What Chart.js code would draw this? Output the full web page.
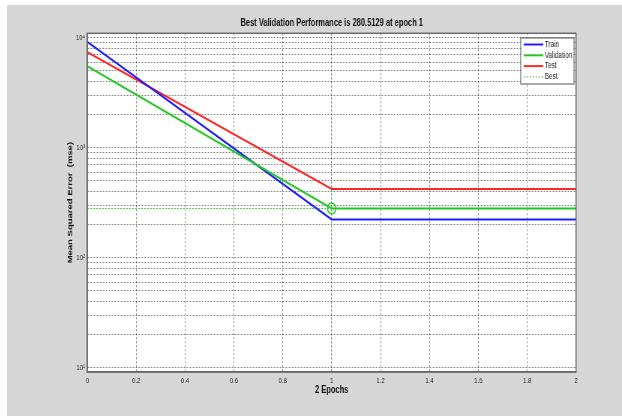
<!DOCTYPE html>
<html>
<head>
<meta charset="utf-8">
<script src="https://cdn.jsdelivr.net/npm/chart.js@4/dist/chart.umd.min.js"></script>
<style>
  html, body { margin: 0; padding: 0; background: #ffffff; width: 622px; height: 416px; overflow: hidden; }
  #wrap { position: absolute; left: 7px; top: 5px; width: 615px; height: 411px; background: #d6d6d6; overflow: hidden; }
  #c { transform: scaleX(0.75); transform-origin: 0 0; display: block; }
</style>
</head>
<body>
<div id="wrap"><canvas id="c" width="820" height="411"></canvas></div>
<script>
// ---- data ----
const epochs = [0, 1, 2];
const trainMSE = [9150, 223, 223];
const validationMSE = [5500, 280.5129, 280.5129];
const testMSE = [7400, 422, 422];
const bestEpoch = 1;
const bestPerf = 280.5129;
const seriesNames = ['Train', 'Validation', 'Test', 'Best'];
const xTickValues = [0, 0.2, 0.4, 0.6, 0.8, 1, 1.2, 1.4, 1.6, 1.8, 2];
const yTickValues = [10,20,30,40,50,60,70,80,90,100,200,300,400,500,600,700,800,900,1000,2000,3000,4000,5000,6000,7000,8000,9000,10000];
const yMajorLabels = {10: '10\u00B9', 100: '10\u00B2', 1000: '10\u00B3', 10000: '10\u2074'};
const yAxisMin = 9.14;
const yAxisMax = 10965;

const BLUE = '#1c1cff', GREEN = '#22c822', RED = '#ff2626';

function pts(ys) { return epochs.map((e, i) => ({x: e, y: ys[i]})); }

const framePlugin = {
  id: 'frame',
  beforeDraw(chart) {
    const {ctx, chartArea: a} = chart;
    ctx.save();
    ctx.fillStyle = '#ffffff';
    ctx.fillRect(a.left, a.top, a.right - a.left, a.bottom - a.top);
    ctx.restore();
  },
  afterDraw(chart) {
    const {ctx, chartArea: a} = chart;
    ctx.save();
    ctx.strokeStyle = '#6a6a6a';
    ctx.lineWidth = 1.5;
    ctx.strokeRect(a.left, a.top, a.right - a.left, a.bottom - a.top);
    // legend box (MATLAB style, inside the axes, top-right)
    const lx = 685, ly = 33, lw = 71, lh = 46;
    ctx.fillStyle = '#ffffff';
    ctx.fillRect(lx, ly, lw, lh);
    ctx.strokeStyle = '#555555';
    ctx.lineWidth = 1;
    ctx.strokeRect(lx, ly, lw, lh);
    const colors = [BLUE, GREEN, RED, GREEN];
    ctx.font = '8.5px "Liberation Sans", Arial, sans-serif';
    ctx.textBaseline = 'middle';
    ctx.textAlign = 'left';
    seriesNames.forEach((name, i) => {
      const y = ly + 6.5 + i * 10.8;
      ctx.beginPath();
      ctx.strokeStyle = colors[i];
      ctx.lineWidth = i === 3 ? 1 : 2;
      ctx.setLineDash(i === 3 ? [2, 2] : []);
      ctx.moveTo(lx + 4, y);
      ctx.lineTo(lx + 30, y);
      ctx.stroke();
      ctx.setLineDash([]);
      ctx.fillStyle = '#222222';
      ctx.fillText(name, lx + 32, y);
    });
    ctx.restore();
  }
};

new Chart(document.getElementById('c'), {
  type: 'line',
  data: {
    datasets: [
      { label: 'Best', data: [{x: epochs[0], y: bestPerf}, {x: epochs[epochs.length - 1], y: bestPerf}], borderColor: GREEN, borderWidth: 1, borderDash: [2, 2], pointRadius: 0, order: 5 },
      { label: 'Best epoch', data: [{x: bestEpoch, y: yAxisMin}, {x: bestEpoch, y: yAxisMax}], borderColor: 'rgba(34,200,34,0.55)', borderWidth: 1, borderDash: [2, 2], pointRadius: 0, order: 5 },
      { label: 'Train', data: pts(trainMSE), borderColor: BLUE, borderWidth: 2, pointRadius: 0, order: 3 },
      { label: 'Validation', data: pts(validationMSE), borderColor: GREEN, borderWidth: 2, pointRadius: 0, order: 2 },
      { label: 'Test', data: pts(testMSE), borderColor: RED, borderWidth: 2, pointRadius: 0, order: 4 },
      { label: 'Best point', data: [{x: bestEpoch, y: bestPerf}], borderColor: GREEN, backgroundColor: 'rgba(0,0,0,0)', pointRadius: 5.5, pointBorderWidth: 1.5, showLine: false, order: 1 }
    ]
  },
  options: {
    responsive: false,
    animation: false,
    devicePixelRatio: 1,
    layout: { padding: { left: 78.3, right: 61.3, top: 0, bottom: 0 } },
    plugins: {
      legend: { display: false },
      tooltip: { enabled: false },
      title: {
        display: true,
        fullSize: false,
        text: 'Best Validation Performance is 280.5129 at epoch 1',
        color: '#111111',
        font: { family: '"Liberation Sans", Arial, sans-serif', size: 10, weight: 'bold' },
        padding: { top: 12.7, bottom: 3.6 }
      }
    },
    scales: {
      x: {
        type: 'linear',
        min: 0, max: 2,
        afterBuildTicks: (s) => { s.ticks = xTickValues.map(v => ({value: v})); },
        afterFit: (s) => { s.height = 44; },
        ticks: {
          autoSkip: false, maxRotation: 0, padding: 4, color: '#222222',
          font: { family: '"Liberation Sans", Arial, sans-serif', size: 8 },
          callback: (v) => String(Number(v.toFixed(1)))
        },
        grid: { color: 'rgba(0,0,0,0.5)', lineWidth: 1, drawTicks: false },
        border: { display: true, color: '#6a6a6a', width: 1.5, dash: [2, 2] },
        title: {
          display: true, text: '2 Epochs', color: '#111111',
          font: { family: '"Liberation Sans", Arial, sans-serif', size: 10, weight: 'bold' },
          padding: { top: 0, bottom: 19.3 }
        }
      },
      y: {
        type: 'logarithmic',
        min: yAxisMin, max: yAxisMax,
        afterBuildTicks: (s) => { s.ticks = yTickValues.map(v => ({value: v, major: v in yMajorLabels})); },
        afterFit: (s) => { s.width = 28.8; },
        ticks: {
          autoSkip: false, padding: 3, color: '#222222',
          font: { family: '"Liberation Sans", Arial, sans-serif', size: 8 },
          callback: (v) => yMajorLabels[v] || ''
        },
        grid: { color: 'rgba(0,0,0,0.5)', lineWidth: 1, drawTicks: false },
        border: { display: true, color: '#6a6a6a', width: 1.5, dash: [2, 2] },
        title: {
          display: true, text: 'Mean Squared Error  (mse)', color: '#111111',
          font: { family: '"Liberation Sans", Arial, sans-serif', size: 9.5, weight: 'bold' },
          padding: { top: 0, bottom: 0 }
        }
      }
    }
  },
  plugins: [framePlugin]
});
</script>
</body>
</html>
